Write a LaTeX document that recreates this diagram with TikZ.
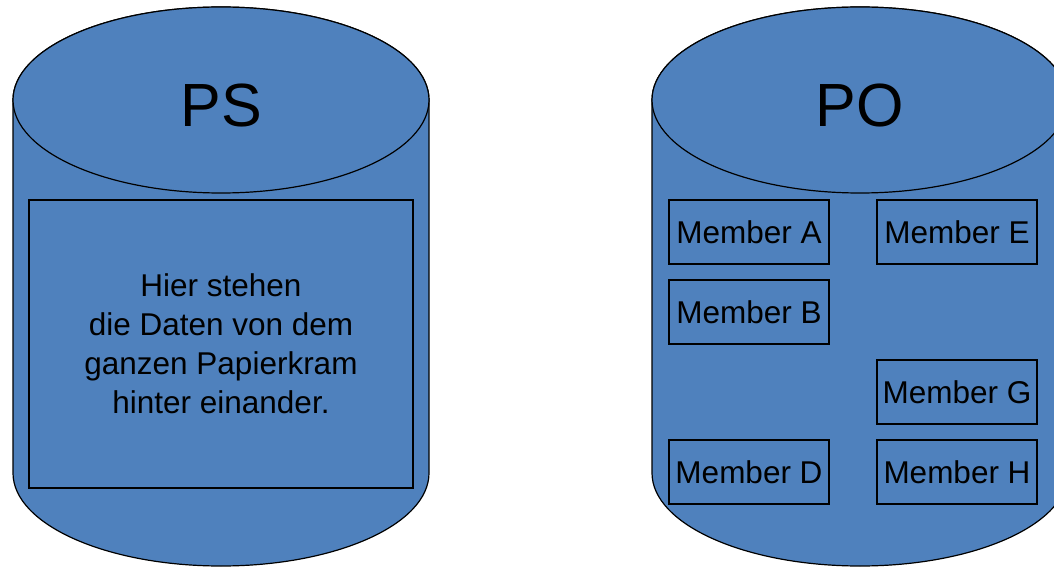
\documentclass[tikz,border=0pt]{standalone}
\usepackage{fontspec}
\setmainfont{Liberation Sans}
\usetikzlibrary{positioning}

\definecolor{dbblue}{HTML}{4F81BD}

\tikzset{
  dbbody/.style={fill=dbblue, draw=black, line width=1.2pt},
  dbtitle/.style={anchor=base, font=\fontsize{61}{70}\selectfont},
  member/.style={draw=black, line width=1.5pt, minimum width=160pt, minimum height=64pt,
    inner sep=0pt, outer sep=0pt, font=\fontsize{31.5}{39}\selectfont},
}

\begin{document}
\begin{tikzpicture}[x=1pt, y=1pt]
\useasboundingbox (0,0) rectangle (1054,566);
\clip (0,0) rectangle (1054,566);

% cylinder PS
\path[dbbody] (13,466) -- (13,93)
  arc[start angle=180, end angle=360, x radius=208pt, y radius=93pt]
  -- (429,466)
  arc[start angle=0, end angle=180, x radius=208pt, y radius=93pt] -- cycle;
\path[dbbody] (221,466) ellipse [x radius=208pt, y radius=93pt];
\node[dbtitle] (ps) at (221,439) {PS};

% cylinder PO
\path[dbbody] (652,466) -- (652,93)
  arc[start angle=180, end angle=360, x radius=208pt, y radius=93pt]
  -- (1068,466)
  arc[start angle=0, end angle=180, x radius=208pt, y radius=93pt] -- cycle;
\path[dbbody] (860,466) ellipse [x radius=208pt, y radius=93pt];
\node[dbtitle] (po) at (860,439) {PO};

% Inhalt PS
\node[member, minimum width=384pt, minimum height=288pt, align=center] (daten) at (221,222)
  {Hier stehen\\die Daten von dem\\ganzen Papierkram\\hinter einander.};

% Inhalt PO
\node[member] (ma) at (749,334) {Member A};
\node[member, right=48pt of ma] (me) {Member E};
\node[member, below=16pt of ma] (mb) {Member B};
\node[member, below=96pt of mb] (md) {Member D};
\node[member, right=48pt of md] (mh) {Member H};
\node[member, above=16pt of mh] (mg) {Member G};
\end{tikzpicture}
\end{document}
